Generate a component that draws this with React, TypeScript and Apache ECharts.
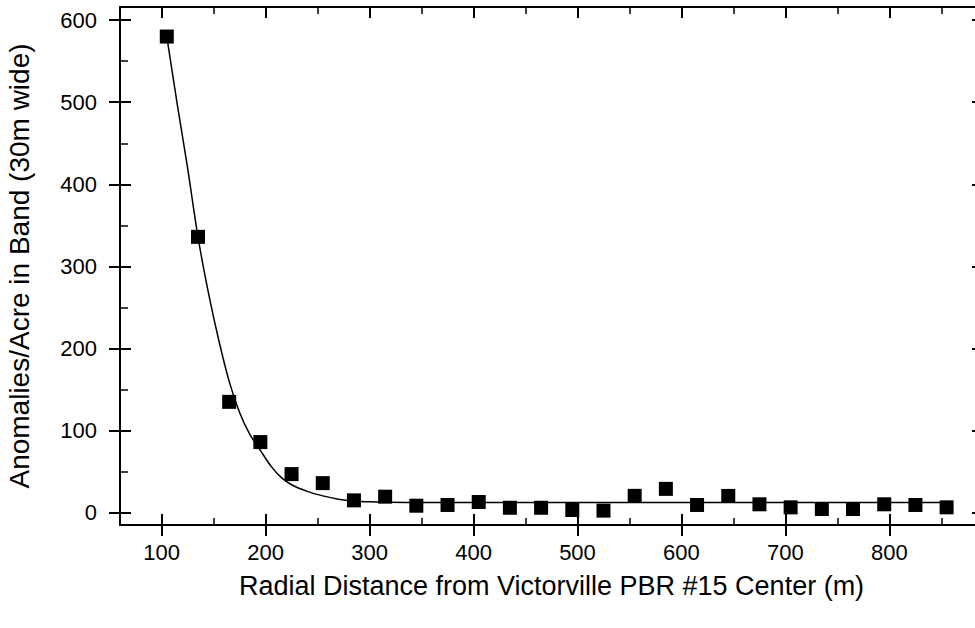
import React, { useEffect, useRef } from "react";
import * as echarts from "echarts";

const distances = [105, 135, 165, 195, 225, 255, 285, 315, 345, 375, 405, 435, 465, 495, 525, 555, 585, 615, 645, 675, 705, 735, 765, 795, 825, 855];
const anomalies = [580, 336, 135, 86, 47, 36, 15, 19.5, 8.5, 9.4, 13, 6, 6, 3.3, 2.5, 20.5, 29, 9.4, 20.4, 10.2, 6.5, 4.5, 4.5, 10.2, 9.4, 6.5];

const fitX = [105, 115, 125, 135, 145, 155, 165, 175, 185, 195, 205, 215, 225, 240, 255, 270, 285, 300, 320, 350, 450, 600, 750, 858];
const fitY = [580, 498, 420, 336, 268, 210, 160, 122, 95, 76, 57, 43, 34, 26, 20.5, 16.5, 14.2, 13.2, 12.7, 12.4, 12.4, 12.4, 12.4, 12.4];

const xMajor = [100, 200, 300, 400, 500, 600, 700, 800];
const xMinor = [150, 250, 350, 450, 550, 650, 750, 850];
const yMajor = [0, 100, 200, 300, 400, 500, 600];
const yMinor = [50, 150, 250, 350, 450, 550];

const X_MIN = 60;
const X_MAX = 890;
const Y_MIN = -15;
const Y_MAX = 616;

const FONT = "'Liberation Sans', Arial, Helvetica, sans-serif";

export default function App() {
  const ref = useRef<HTMLDivElement>(null);

  useEffect(() => {
    if (!ref.current) return;
    const chart = echarts.init(ref.current, undefined, { renderer: "svg" });

    const baseAxis = (extra: any) => ({
      type: "value",
      splitLine: { show: false },
      axisLabel: { show: false },
      axisLine: { show: false },
      ...extra,
    });

    const xAxisDef = (position: string, ticks: number[], inside: boolean, length: number, width: number, line: boolean, labels: boolean, extra: any = {}) =>
      baseAxis({
        position,
        min: X_MIN,
        max: X_MAX,
        axisLine: { show: line, onZero: false, lineStyle: { color: "#000", width: 2 } },
        axisTick: { show: true, inside, length, customValues: ticks, lineStyle: { color: "#000", width } },
        axisLabel: labels
          ? { show: true, customValues: ticks, color: "#000", fontSize: 22, fontFamily: FONT, margin: 16 }
          : { show: false },
        ...extra,
      });

    const yAxisDef = (position: string, ticks: number[], inside: boolean, length: number, width: number, line: boolean, labels: boolean, extra: any = {}) =>
      baseAxis({
        position,
        min: Y_MIN,
        max: Y_MAX,
        axisLine: { show: line, onZero: false, lineStyle: { color: "#000", width: 2 } },
        axisTick: { show: true, inside, length, customValues: ticks, lineStyle: { color: "#000", width } },
        axisLabel: labels
          ? { show: true, customValues: ticks, color: "#000", fontSize: 22, fontFamily: FONT, margin: 23 }
          : { show: false },
        ...extra,
      });

    const scatterData = distances.map((d, i) => [d, anomalies[i]]);
    const fitData = fitX.map((d, i) => [d, fitY[i]]);

    chart.setOption({
      animation: false,
      backgroundColor: "#fff",
      grid: { left: 120, top: 7, width: 863, height: 518, containLabel: false, outerBoundsMode: "none" },
      xAxis: [
        xAxisDef("bottom", xMajor, true, 11, 2, true, true, {
          name: "Radial Distance from Victorville PBR #15 Center (m)",
          nameLocation: "middle",
          nameGap: 47,
          nameTextStyle: { color: "#000", fontSize: 27, fontFamily: FONT },
        }),
        xAxisDef("bottom", xMajor, false, 11, 2, false, false),
        xAxisDef("bottom", xMinor, true, 7, 1.5, false, false),
        xAxisDef("top", xMajor, true, 11, 2, true, false),
        xAxisDef("top", xMinor, true, 7, 1.5, false, false),
      ],
      yAxis: [
        yAxisDef("left", yMajor, true, 11, 2, true, true, {
          name: "Anomalies/Acre in Band (30m wide)",
          nameLocation: "middle",
          nameGap: 87,
          nameRotate: 90,
          nameTextStyle: { color: "#000", fontSize: 28, fontFamily: FONT },
        }),
        yAxisDef("left", yMajor, false, 11, 2, false, false),
        yAxisDef("left", yMinor, true, 8, 1.5, false, false),
        yAxisDef("right", yMajor, true, 11, 2, true, false),
        yAxisDef("right", yMinor, true, 8, 1.5, false, false),
      ],
      series: [
        {
          type: "line",
          data: fitData,
          xAxisIndex: 0,
          yAxisIndex: 0,
          symbol: "none",
          smooth: 0.3,
          lineStyle: { color: "#000", width: 1.5 },
          silent: true,
          z: 2,
        },
        {
          type: "scatter",
          data: scatterData,
          xAxisIndex: 0,
          yAxisIndex: 0,
          symbol: "rect",
          symbolSize: 14,
          itemStyle: { color: "#000", opacity: 1 },
          z: 3,
        },
      ],
    });

    return () => chart.dispose();
  }, []);

  return (
    <div
      ref={ref}
      style={{ position: "fixed", left: 0, top: 0, width: 1000, height: 628, background: "#fff" }}
    />
  );
}
